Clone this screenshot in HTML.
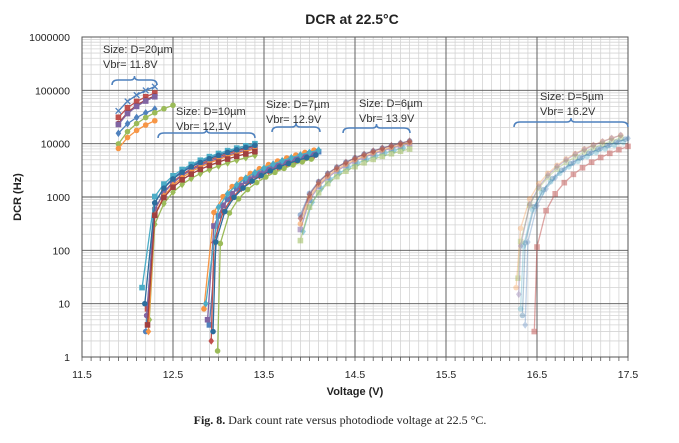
<!DOCTYPE html>
<html><head><meta charset="utf-8"><style>
body{margin:0;background:#fff;width:679px;height:443px;overflow:hidden}
svg{display:block}
text{font-family:"Liberation Sans",sans-serif}
</style></head><body>
<svg id="s" width="679" height="443" xmlns="http://www.w3.org/2000/svg"></svg>
<script>
const s=document.getElementById('s');
const L=82,R=628,T=37,B=357;
const X=v=>L+(v-11.5)*91, Y=d=>B-Math.log10(d)*53.33;
let h='<defs><clipPath id="c"><rect x="'+(L-4)+'" y="'+(T-4)+'" width="'+(R-L+8)+'" height="'+(B-T+8)+'"/></clipPath></defs>';
for(let i=0;i<=60;i++){const x=L+i*9.1;h+=`<line x1="${x}" y1="${T}" x2="${x}" y2="${B}" stroke="#d4d4d4" stroke-width="0.8"/>`;}
for(let e=0;e<6;e++)for(let k=2;k<10;k++){const y=Y(k*Math.pow(10,e));h+=`<line x1="${L}" y1="${y}" x2="${R}" y2="${y}" stroke="#d4d4d4" stroke-width="0.8"/>`;}
for(let e=0;e<=6;e++){const y=Y(Math.pow(10,e));h+=`<line x1="${L}" y1="${y}" x2="${R}" y2="${y}" stroke="#555" stroke-width="0.9"/>`;
h+=`<text x="70" y="${y+4}" font-size="10.5" text-anchor="end" fill="#222">${Math.pow(10,e)}</text>`;}
for(let i=0;i<=6;i++){const x=L+i*91;h+=`<line x1="${x}" y1="${T}" x2="${x}" y2="${B}" stroke="#555" stroke-width="0.9"/>`;
h+=`<text x="${x}" y="378" font-size="10.5" text-anchor="middle" fill="#222">${(11.5+i).toFixed(1)}</text>`;}
for(let i=0;i<=60;i++){const x=L+i*9.1;h+=`<line x1="${x}" y1="${B}" x2="${x}" y2="${B+4}" stroke="#555" stroke-width="0.8"/>`;}
h+=`<rect x="${L}" y="${T}" width="${R-L}" height="${B-T}" fill="none" stroke="#555"/>`;
const C=['#4f81bd','#c0504d','#9bbb59','#8064a2','#4bacc6','#f79646','#2c6d9c','#a04040'];
function mk(x,y,c,t,r){r=r||2.8;
 if(t==0)return `<circle cx="${x}" cy="${y}" r="${r}" fill="${c}"/>`;
 if(t==1)return `<rect x="${x-r}" y="${y-r}" width="${2*r}" height="${2*r}" fill="${c}"/>`;
 if(t==2)return `<path d="M${x} ${y-r-1}L${x+r} ${y}L${x} ${y+r+1}L${x-r} ${y}Z" fill="${c}"/>`;
 return `<path d="M${x-r} ${y-r}L${x+r} ${y+r}M${x-r} ${y+r}L${x+r} ${y-r}" stroke="${c}" stroke-width="1.3"/>`;}
let g2='';
function series(V0,V1,Lend,p,start,step,first,c,t,op){
 let pts=[];
 if(first!=null)pts.push([V0+0.02,first]);
 if(start<=V0+0.03)start=V0+0.05;
 for(let v=start;v<=V1+1e-6;v+=step){const r=(v-V0)/(V1-V0);let l=Lend+p*Math.log(r);pts.push([v,Math.pow(10,l)]);}
 let d='M'+pts.map(q=>X(q[0]).toFixed(1)+' '+Y(q[1]).toFixed(1)).join('L');
 let g=`<g opacity="${op}"><path d="${d}" fill="none" stroke="${c}" stroke-width="1.3"/>`;
 pts.forEach(q=>g+=mk(X(q[0]),Y(q[1]),c,t));
 return g+'</g>';}
[[0,3,5.07,0.35],[1,1,4.95,0.35],[7,0,4.9,0.4],[0,2,4.65,0.35],[2,0,4.72,0.45],[5,0,4.43,0.4],[3,1,4.88,0.4]].forEach((a,i)=>{
 const V1=a[0]==2?12.5:12.3;g2+=series(11.75,V1,a[2],a[3],11.9,0.1,null,C[a[0]],a[1],1);});
[[0,4.0,12.18],[1,3.95,12.2],[2,3.78,12.22],[3,3.92,12.19],[4,4.0,12.14],[5,3.9,12.21],[6,3.97,12.17],[7,3.85,12.2]].forEach((a,i)=>{
 g2+=series(a[2],13.4,a[1],0.48,12.3,0.1,[3,8,5,6,20,3,10,4][i],C[a[0]],i%3,1);});
[[5,3.9,12.82],[0,3.85,12.88],[1,3.8,12.9],[2,3.75,12.97],[3,3.82,12.86],[4,3.88,12.84],[6,3.8,12.92]].forEach((a,i)=>{
 g2+=series(a[2],14.1,a[1],0.52,12.95+(i%2)*0.05,0.1,[8,4,2,1.3,5,10,3][i],C[a[0]],i%3,1);});
[[0,4.05,13.82],[3,4.0,13.85],[4,3.95,13.88],[5,4.02,13.84],[2,3.9,13.86],[7,4.05,13.83]].forEach((a,i)=>{
 g2+=series(a[2],15.1,a[1],0.5,13.9,0.1,null,C[a[0]],i%3,0.55);});
[[5,4.2,16.25],[2,4.15,16.27],[0,4.1,16.35],[4,4.05,16.3],[1,3.95,16.45],[3,4.2,16.28],[6,4.1,16.32]].forEach((a,i)=>{
 g2+=series(a[2],17.5,a[1],0.62,16.3+(a[0]==1?0.15:0.02),0.1,[20,30,4,8,3,15,6][i],C[a[0]],i%3,i==4?0.5:0.35);});
h+='<g clip-path="url(#c)">'+g2+'</g>';
function brace(x1,x2,y){const m=(x1+x2)/2;return `<path d="M${x1} ${y+5}Q${x1} ${y} ${x1+6} ${y}L${m-4} ${y}Q${m} ${y} ${m} ${y-4}Q${m} ${y} ${m+4} ${y}L${x2-6} ${y}Q${x2} ${y} ${x2} ${y+5}" fill="none" stroke="#4f81bd" stroke-width="1.5"/>`;}
h+=brace(112,157,80)+brace(158,255,133)+brace(272,320,127)+brace(343,410,128)+brace(514,628,122);
function lab(x,y,a,b){return `<text x="${x}" y="${y}" font-size="11" fill="#333">${a}</text><text x="${x}" y="${y+15}" font-size="11" fill="#333">${b}</text>`;}
h+=lab(103,53,'Size: D=20µm','Vbr= 11.8V')+lab(176,115,'Size: D=10µm','Vbr= 12,1V')+lab(266,108,'Size: D=7µm','Vbr= 12.9V')+lab(359,107,'Size: D=6µm','Vbr= 13.9V')+lab(540,100,'Size: D=5µm','Vbr= 16.2V');
h+=`<text x="352" y="24" font-size="14" font-weight="bold" text-anchor="middle" fill="#222">DCR at 22.5°C</text>`;
h+=`<text x="355" y="395" font-size="11" font-weight="bold" text-anchor="middle" fill="#222">Voltage (V)</text>`;
h+=`<text transform="translate(21,197) rotate(-90)" font-size="11" font-weight="bold" text-anchor="middle" fill="#222">DCR (Hz)</text>`;
h+=`<text x="340" y="424" font-size="12" text-anchor="middle" fill="#222" style="font-family:'Liberation Serif',serif"><tspan font-weight="bold">Fig. 8.</tspan> Dark count rate versus photodiode voltage at 22.5 °C.</text>`;
s.innerHTML=h;
</script>
</body></html>
